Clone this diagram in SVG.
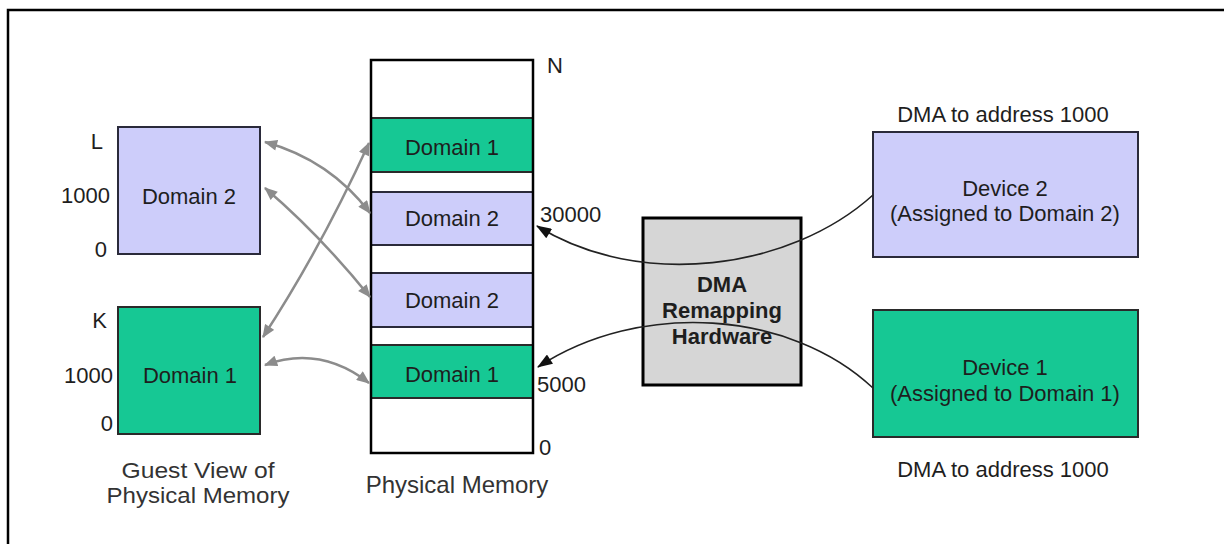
<svg xmlns="http://www.w3.org/2000/svg" width="1224" height="544" viewBox="0 0 1224 544">
  <defs>
    <style>
      text { font-family: "Liberation Sans", Arial, sans-serif; fill: #1e1e1e; }
      .lbl { font-size: 22px; }
      .mid { text-anchor: middle; }
      .end { text-anchor: end; }
      .cap { font-size: 24px; fill: #333; }
      .cap2 { font-size: 22px; fill: #333; }
      .bold { font-weight: bold; }
      .d1 { fill: #16c894; stroke: #2a2a2a; stroke-width: 2; }
      .d2 { fill: #cdcdfa; stroke: #2a2a3a; stroke-width: 2; }
      .map { fill: none; stroke: #8c8c8c; stroke-width: 2.5; marker-start: url(#ga); marker-end: url(#ga); }
      .dma { fill: none; stroke: #222; stroke-width: 1.6; marker-end: url(#ba); }
    </style>
    <marker id="ga" viewBox="0 0 12 10" refX="11" refY="5" markerWidth="14" markerHeight="11" markerUnits="userSpaceOnUse" orient="auto-start-reverse">
      <path d="M0,0 L12,5 L0,10 Z" fill="#8c8c8c"/>
    </marker>
    <marker id="ba" viewBox="0 0 14 10" refX="13" refY="5" markerWidth="16" markerHeight="11" markerUnits="userSpaceOnUse" orient="auto">
      <path d="M0,0 L14,5 L0,10 Z" fill="#111"/>
    </marker>
  </defs>

  <rect width="1224" height="544" fill="#ffffff"/>
  <!-- outer frame -->
  <rect x="8" y="10" width="1240" height="560" fill="none" stroke="#000" stroke-width="2.5"/>

  <!-- Physical memory column -->
  <g id="physical-memory">
    <rect x="371" y="60" width="162" height="393" fill="#fff"/>
    <rect x="371" y="118" width="162" height="54" class="d1"/>
    <rect x="371" y="192" width="162" height="53" class="d2"/>
    <rect x="371" y="273" width="162" height="54" class="d2"/>
    <rect x="371" y="345" width="162" height="53" class="d1"/>
    <rect x="371" y="60" width="162" height="393" fill="none" stroke="#000" stroke-width="2.5"/>
    <text class="lbl mid" x="452" y="155">Domain 1</text>
    <text class="lbl mid" x="452" y="226">Domain 2</text>
    <text class="lbl mid" x="452" y="308">Domain 2</text>
    <text class="lbl mid" x="452" y="382">Domain 1</text>
    <text class="lbl" x="547" y="73">N</text>
    <text class="lbl" x="540" y="222">30000</text>
    <text class="lbl" x="537" y="392">5000</text>
    <text class="lbl" x="539" y="455">0</text>
    <text class="cap mid" x="457" y="493">Physical Memory</text>
  </g>

  <!-- Guest view Domain 2 -->
  <g id="guest-domain2">
    <rect x="118" y="127" width="142" height="127" class="d2"/>
    <text class="lbl mid" x="189" y="204">Domain 2</text>
    <text class="lbl end" x="103" y="149">L</text>
    <text class="lbl end" x="110" y="203">1000</text>
    <text class="lbl end" x="107" y="257">0</text>
  </g>

  <!-- Guest view Domain 1 -->
  <g id="guest-domain1">
    <rect x="118" y="307" width="142" height="127" class="d1"/>
    <text class="lbl mid" x="190" y="383">Domain 1</text>
    <text class="lbl end" x="107" y="328">K</text>
    <text class="lbl end" x="113" y="383">1000</text>
    <text class="lbl end" x="113" y="431">0</text>
  </g>

  <g id="guest-caption">
    <text class="cap2 mid" x="198" y="478" textLength="153" lengthAdjust="spacingAndGlyphs">Guest View of</text>
    <text class="cap2 mid" x="198" y="503" textLength="183" lengthAdjust="spacingAndGlyphs">Physical Memory</text>
  </g>

  <!-- DMA remapping hardware -->
  <g id="dma-remapping">
    <rect x="643" y="218" width="158" height="167" fill="#d6d6d6" stroke="#000" stroke-width="3"/>
    <text class="lbl mid bold" x="722" y="292">DMA</text>
    <text class="lbl mid bold" x="722" y="318">Remapping</text>
    <text class="lbl mid bold" x="722" y="344">Hardware</text>
  </g>

  <!-- Device 2 -->
  <g id="device2">
    <text class="lbl mid" x="1003" y="122">DMA to address 1000</text>
    <rect x="873" y="132" width="265" height="125" class="d2"/>
    <text class="lbl mid" x="1005" y="196">Device 2</text>
    <text class="lbl mid" x="1005" y="221">(Assigned to Domain 2)</text>
  </g>

  <!-- Device 1 -->
  <g id="device1">
    <rect x="873" y="310" width="265" height="127" class="d1"/>
    <text class="lbl mid" x="1005" y="375">Device 1</text>
    <text class="lbl mid" x="1005" y="401">(Assigned to Domain 1)</text>
    <text class="lbl mid" x="1003" y="477">DMA to address 1000</text>
  </g>

  <!-- connectors -->
  <g id="connectors">
    <path class="map" d="M265,142 Q330,160 370,213"/>
    <path class="map" d="M265,188 Q320,235 370,297"/>
    <path class="map" d="M263,337 Q320,250 369,143"/>
    <path class="map" d="M265,365 Q320,345 369,383"/>
    <path class="dma" d="M873,195 C790,270 640,290 537,226"/>
    <path class="dma" d="M873,388 C790,310 640,300 538,367"/>
  </g>
</svg>
